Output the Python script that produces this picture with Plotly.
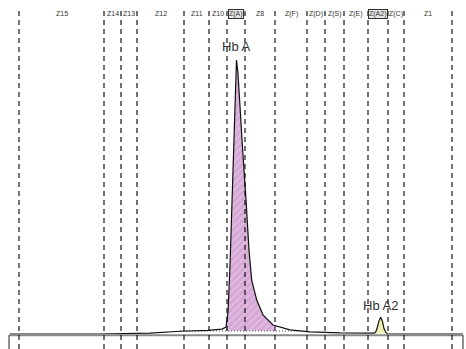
import plotly.graph_objects as go

# Zone boundaries (migration position units)
zone_bounds = [19, 104, 121, 137, 184, 209, 227, 245, 275, 307, 325, 344, 368, 388, 404, 452]
zone_labels = ["Z15", "Z14", "Z13", "Z12", "Z11", "Z10", "Z(A)", "Z8", "Z(F)",
               "Z(D)", "Z(S)", "Z(E)", "Z(A2)", "Z(C)", "Z1"]
boxed_zones = ["Z(A)", "Z(A2)"]

# Electropherogram trace
trace_x = [10, 100, 150, 170, 180, 208, 222, 226, 228, 230, 232, 234, 235.5, 236.5,
           238, 240, 242.7, 246, 249, 251.7, 256.7, 263, 273, 290, 310, 340, 365,
           374, 375.5, 377, 379, 380.7, 382.5, 384, 386, 387.5, 400, 463]
trace_y = [0, 0, 0.3, 0.8, 1.0, 1.3, 1.8, 2.5, 8, 25, 50, 78, 95, 100,
           95, 82, 67, 49, 30.6, 19.7, 12.4, 7, 3.3, 1.5, 0.8, 0.4, 0.2,
           0.3, 0.6, 2.0, 4.8, 6.1, 4.5, 2.0, 0.5, 0.1, 0, 0]

# Peaks
peak_names = ["Hb A", "Hb A2"]
peak_start = [226, 374]
peak_end = [275, 387.5]
peak_base = [1.2, 0.2]
peak_apex_x = [236.5, 380.7]
peak_label_y = [105, 10.3]
peak_colors = ["#d6a8d6", "#efefb0"]

dotted_base_x = [180, 300]
dotted_base_y = [1.1, 1.1]

fig = go.Figure()

# Peak fills
for i, name in enumerate(peak_names):
    xs = [x for x in trace_x if peak_start[i] <= x <= peak_end[i]]
    ys = [y for x, y in zip(trace_x, trace_y) if peak_start[i] <= x <= peak_end[i]]
    px = xs + [peak_end[i], peak_start[i]]
    py = ys + [peak_base[i], peak_base[i]]
    if i == 0:
        fig.add_trace(go.Scatter(x=px, y=py, mode="lines", line=dict(width=0),
                                 fill="toself", fillcolor=peak_colors[i],
                                 fillpattern=dict(shape="/", bgcolor=peak_colors[i],
                                                  fgcolor="#f2def2", size=5, solidity=0.25),
                                 hoverinfo="skip", showlegend=False))
    else:
        fig.add_trace(go.Scatter(x=px, y=py, mode="lines", line=dict(width=0),
                                 fill="toself", fillcolor=peak_colors[i],
                                 hoverinfo="skip", showlegend=False))

# dotted baseline
fig.add_trace(go.Scatter(x=dotted_base_x, y=dotted_base_y, mode="lines",
                         line=dict(color="#555", width=1, dash="1px,2px"),
                         hoverinfo="skip", showlegend=False))

# main trace
fig.add_trace(go.Scatter(x=trace_x, y=trace_y, mode="lines",
                         line=dict(color="#111", width=1.2),
                         hoverinfo="skip", showlegend=False))

shapes = []
# axis baseline and side ticks
shapes.append(dict(type="line", xref="x", yref="y", x0=9, x1=463, y0=-0.45, y1=-0.45,
                   line=dict(color="#8a8a8a", width=2)))
for xb in [9, 463]:
    shapes.append(dict(type="line", xref="x", yref="y", x0=xb, x1=xb, y0=-0.45, y1=-6,
                       line=dict(color="#222", width=1)))
# zone dashed lines
for xb in zone_bounds:
    shapes.append(dict(type="line", xref="x", yref="paper", x0=xb, x1=xb, y0=0, y1=0.976,
                       line=dict(color="#000", width=1.1, dash="5px,4px")))

annotations = []
for i, lab in enumerate(zone_labels):
    cx = (zone_bounds[i] + zone_bounds[i + 1]) / 2
    a = dict(x=cx, y=0.96, xref="x", yref="paper", text=lab, showarrow=False,
             font=dict(family="Liberation Sans, Arial", size=7, color="#333"),
             xanchor="center", yanchor="middle")
    if lab in boxed_zones:
        a.update(bordercolor="#333", borderwidth=1, borderpad=0, bgcolor="#e6e6e6")
    annotations.append(a)

for i, name in enumerate(peak_names):
    annotations.append(dict(x=peak_apex_x[i], y=peak_label_y[i], xref="x", yref="y",
                            text=name, showarrow=False,
                            font=dict(family="Liberation Sans, Arial", size=13, color="#333"),
                            xanchor="center", yanchor="middle"))

fig.update_layout(
    width=466, height=349,
    margin=dict(l=0, r=0, t=0, b=0),
    paper_bgcolor="white", plot_bgcolor="white",
    xaxis=dict(range=[0, 466], visible=False, fixedrange=True),
    yaxis=dict(range=[-5.47, 121.9], visible=False, fixedrange=True),
    shapes=shapes, annotations=annotations,
    showlegend=False,
)

fig.write_html("out.html")
